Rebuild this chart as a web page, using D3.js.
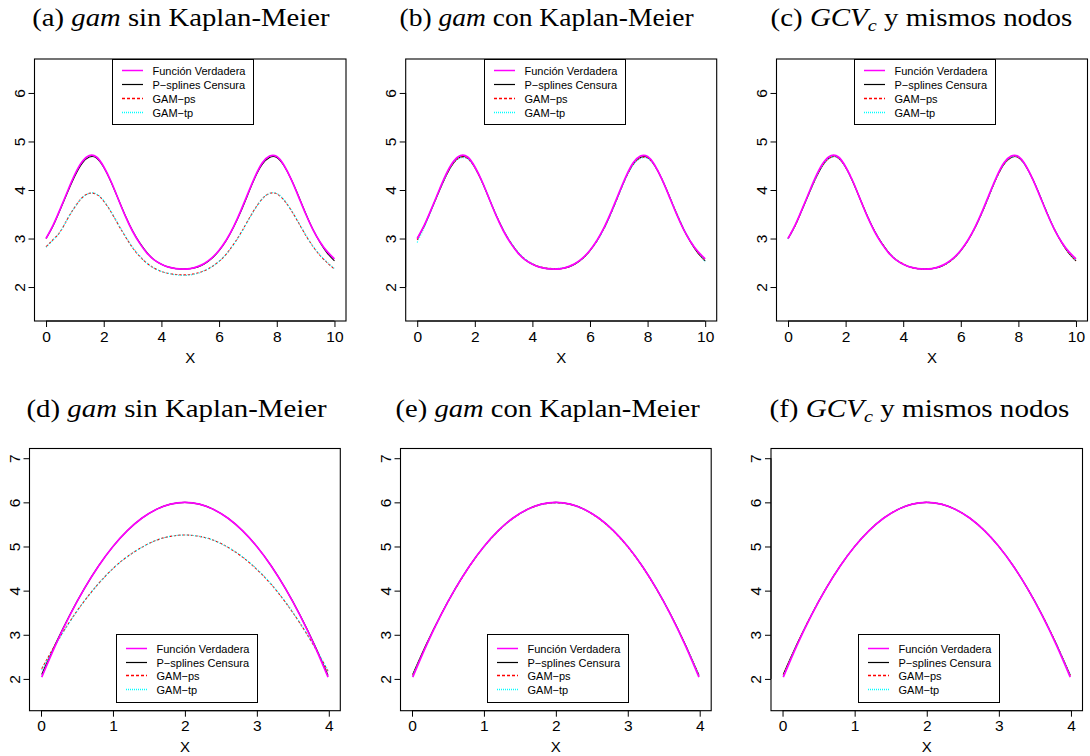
<!DOCTYPE html>
<html>
<head>
<meta charset="utf-8">
<script src="https://cdn.jsdelivr.net/npm/d3@7"></script>
<style>
  body { margin: 0; background: #fff; }
  svg { display: block; }
</style>
</head>
<body>
<svg id="fig" width="1090" height="756"></svg>
<script>
// ---- x grids ----
const xTop = [0, 0.25, 0.5, 0.75, 1, 1.25, 1.5, 1.75, 2, 2.25, 2.5, 2.75, 3, 3.25, 3.5, 3.75,
  4, 4.25, 4.5, 4.75, 5, 5.25, 5.5, 5.75, 6, 6.25, 6.5, 6.75, 7, 7.25, 7.5, 7.75,
  8, 8.25, 8.5, 8.75, 9, 9.25, 9.5, 9.75, 10];
const xBot = [0.01, 0.2, 0.4, 0.6, 0.8, 1, 1.2, 1.4, 1.6, 1.8, 2, 2.2, 2.4, 2.6, 2.8, 3,
  3.2, 3.4, 3.6, 3.8, 3.99];

// ---- top row (periodic function) ----
const trueTop = [3.00, 3.28, 3.62, 3.98, 4.32, 4.58, 4.71, 4.68, 4.48, 4.18, 3.82, 3.46, 3.15, 2.90, 2.70, 2.56,
  2.47, 2.41, 2.38, 2.37, 2.38, 2.42, 2.49, 2.60, 2.76, 2.97, 3.24, 3.57, 3.93, 4.28, 4.56, 4.70,
  4.69, 4.51, 4.22, 3.87, 3.51, 3.19, 2.93, 2.73, 2.58];
const censTop = [3.00, 3.27, 3.61, 3.96, 4.29, 4.55, 4.68, 4.66, 4.47, 4.17, 3.82, 3.47, 3.16, 2.91, 2.71, 2.56,
  2.47, 2.41, 2.38, 2.37, 2.38, 2.41, 2.48, 2.59, 2.75, 2.96, 3.23, 3.55, 3.91, 4.26, 4.53, 4.67,
  4.67, 4.50, 4.22, 3.88, 3.52, 3.19, 2.92, 2.70, 2.54];
const psTopA = [2.83, 2.98, 3.15, 3.41, 3.65, 3.84, 3.93, 3.91, 3.77, 3.55, 3.29, 3.04, 2.81, 2.63, 2.49, 2.39,
  2.32, 2.28, 2.26, 2.25, 2.26, 2.29, 2.34, 2.42, 2.53, 2.68, 2.88, 3.11, 3.37, 3.62, 3.82, 3.93,
  3.92, 3.79, 3.58, 3.33, 3.07, 2.84, 2.65, 2.50, 2.37];
const tpTopA = [2.82, 2.97, 3.15, 3.41, 3.65, 3.84, 3.93, 3.92, 3.78, 3.56, 3.30, 3.05, 2.82, 2.64, 2.49, 2.39,
  2.32, 2.28, 2.25, 2.24, 2.25, 2.28, 2.34, 2.42, 2.53, 2.68, 2.87, 3.10, 3.36, 3.61, 3.82, 3.93,
  3.93, 3.80, 3.59, 3.34, 3.08, 2.85, 2.66, 2.51, 2.38];
const psTopB = [2.97, 3.27, 3.61, 3.97, 4.30, 4.55, 4.67, 4.65, 4.46, 4.17, 3.82, 3.47, 3.16, 2.91, 2.71, 2.57,
  2.48, 2.42, 2.39, 2.38, 2.38, 2.42, 2.49, 2.59, 2.75, 2.96, 3.22, 3.55, 3.91, 4.26, 4.53, 4.66,
  4.66, 4.50, 4.22, 3.88, 3.53, 3.20, 2.93, 2.71, 2.53];
const tpTopB = [2.92, 3.24, 3.60, 3.97, 4.30, 4.55, 4.66, 4.64, 4.46, 4.17, 3.83, 3.48, 3.17, 2.92, 2.72, 2.58,
  2.48, 2.42, 2.39, 2.38, 2.39, 2.42, 2.49, 2.59, 2.75, 2.95, 3.21, 3.54, 3.90, 4.25, 4.52, 4.65,
  4.65, 4.50, 4.22, 3.89, 3.54, 3.21, 2.94, 2.72, 2.52];
const psTopC = [3.00, 3.27, 3.61, 3.96, 4.29, 4.55, 4.68, 4.66, 4.47, 4.18, 3.82, 3.47, 3.16, 2.91, 2.71, 2.57,
  2.48, 2.41, 2.38, 2.37, 2.38, 2.41, 2.48, 2.59, 2.75, 2.96, 3.23, 3.55, 3.91, 4.26, 4.53, 4.67,
  4.67, 4.50, 4.22, 3.88, 3.52, 3.19, 2.92, 2.70, 2.54];
const tpTopC = [2.99, 3.27, 3.61, 3.96, 4.29, 4.55, 4.68, 4.66, 4.47, 4.18, 3.82, 3.47, 3.16, 2.91, 2.71, 2.57,
  2.47, 2.41, 2.38, 2.37, 2.38, 2.41, 2.48, 2.59, 2.75, 2.96, 3.23, 3.55, 3.91, 4.26, 4.53, 4.67,
  4.67, 4.50, 4.22, 3.88, 3.52, 3.20, 2.93, 2.71, 2.55];

// ---- bottom row (parabola) ----
const trueBot = [2.04, 2.76, 3.44, 4.04, 4.56, 5.00, 5.36, 5.64, 5.84, 5.96, 6.00, 5.96, 5.84, 5.64, 5.36, 5.00,
  4.56, 4.04, 3.44, 2.76, 2.04];
const censBot = [2.10, 2.79, 3.45, 4.04, 4.56, 5.00, 5.36, 5.64, 5.84, 5.96, 6.00, 5.96, 5.84, 5.64, 5.36, 5.00,
  4.56, 4.04, 3.45, 2.78, 2.08];
const psBotD = [2.23, 2.78, 3.30, 3.76, 4.16, 4.50, 4.77, 4.98, 5.14, 5.23, 5.26, 5.23, 5.14, 4.98, 4.76, 4.48,
  4.14, 3.73, 3.26, 2.73, 2.17];
const tpBotD = [2.20, 2.76, 3.29, 3.76, 4.16, 4.50, 4.77, 4.98, 5.14, 5.23, 5.26, 5.23, 5.14, 4.98, 4.77, 4.49,
  4.15, 3.74, 3.27, 2.74, 2.19];
const psBotE = [2.08, 2.77, 3.44, 4.03, 4.55, 4.99, 5.35, 5.63, 5.83, 5.95, 5.99, 5.95, 5.83, 5.63, 5.35, 4.99,
  4.55, 4.03, 3.44, 2.77, 2.08];
const tpBotE = [2.07, 2.76, 3.44, 4.04, 4.56, 4.99, 5.35, 5.63, 5.83, 5.95, 5.99, 5.95, 5.83, 5.64, 5.36, 5.00,
  4.56, 4.04, 3.44, 2.77, 2.09];
const psBotF = [2.09, 2.78, 3.45, 4.04, 4.56, 5.00, 5.36, 5.64, 5.84, 5.96, 6.00, 5.96, 5.84, 5.64, 5.36, 5.00,
  4.56, 4.04, 3.45, 2.78, 2.08];
const tpBotF = [2.08, 2.77, 3.45, 4.04, 4.56, 5.00, 5.36, 5.64, 5.84, 5.96, 6.00, 5.96, 5.84, 5.64, 5.36, 5.00,
  4.56, 4.04, 3.45, 2.78, 2.09];

// ---- ticks and labels ----
const xTicksTop = [0, 2, 4, 6, 8, 10];
const yTicksTop = [2, 3, 4, 5, 6];
const xTicksBot = [0, 1, 2, 3, 4];
const yTicksBot = [2, 3, 4, 5, 6, 7];
const legendLabels = ["Función Verdadera", "P\u2212splines Censura", "GAM\u2212ps", "GAM\u2212tp"];
const xAxisTitle = "X";

// ---- series styles (legend order) ----
const styles = [
  { color: "#ff00ff", width: 1.7, dash: null,      keyWidth: 1.5 },
  { color: "#000000", width: 1.1, dash: null,      keyWidth: 1.2 },
  { color: "#ff0000", width: 1.1, dash: "2.5,1.8", keyWidth: 1.5, keyDash: "3,2" },
  { color: "#00ffff", width: 1.2, dash: "1,1.6",   keyWidth: 1.5, keyDash: "1,1" }
];

const titleTop = { top: 26, fs: 25 };
const titleBot = { top: 416.5, fs: 25 };

const panels = [
  { title: [["(a) "], ["gam", "i"], [" sin Kaplan-Meier"]], tl: 32.3, tw: 298, row: "top",
    box: [34.5, 346, 59, 321], series: [trueTop, censTop, psTopA, tpTopA] },
  { title: [["(b) "], ["gam", "i"], [" con Kaplan-Meier"]], tl: 399.5, tw: 295, row: "top",
    box: [405.7, 716.7, 59, 321], series: [trueTop, censTop, psTopB, tpTopB] },
  { title: [["(c) "], ["GCV", "i"], ["c", "sub"], [" y mismos nodos", "up"]], tl: 770.5, tw: 302, row: "top",
    box: [776.5, 1087.5, 59, 321], series: [trueTop, censTop, psTopC, tpTopC] },
  { title: [["(d) "], ["gam", "i"], [" sin Kaplan-Meier"]], tl: 26.5, tw: 301, row: "bot",
    box: [29.5, 340.3, 448.5, 710.7], series: [trueBot, censBot, psBotD, tpBotD] },
  { title: [["(e) "], ["gam", "i"], [" con Kaplan-Meier"]], tl: 395.5, tw: 305, row: "bot",
    box: [400.5, 711.2, 448.5, 710.7], series: [trueBot, censBot, psBotE, tpBotE] },
  { title: [["(f) "], ["GCV", "i"], ["c", "sub"], [" y mismos nodos", "up"]], tl: 769.5, tw: 300, row: "bot",
    box: [771, 1082.5, 448.5, 710.7], series: [trueBot, censBot, psBotF, tpBotF] }
];

const svg = d3.select("#fig");
const sans = "'Liberation Sans', Arial, Helvetica, sans-serif";
const serif = "'Liberation Serif', 'Times New Roman', serif";

function drawTitle(p) {
  const cfg = p.row === "top" ? titleTop : titleBot;
  const t = svg.append("text")
    .attr("font-family", serif)
    .attr("font-size", cfg.fs)
    .attr("fill", "#000");
  p.title.forEach(([txt, kind]) => {
    const ts = t.append("tspan").text(txt);
    if (kind === "i") ts.attr("font-style", "italic");
    if (kind === "sub") ts.attr("font-style", "italic").attr("font-size", cfg.fs * 0.7).attr("dy", 5);
    if (kind === "up") ts.attr("dy", -5);
  });
  const w = t.node().getBBox().width;
  t.attr("transform", `translate(${p.tl},${cfg.top}) scale(${p.tw / w},1)`);
}

panels.forEach(p => {
  const [x0, x1, y0, y1] = p.box;
  const isTop = p.row === "top";
  const xData = isTop ? xTop : xBot;
  const xDom = isTop ? [0, 10] : [0, 4];
  const yDom = isTop ? [1.5, 6.5] : [1.5, 7];
  const padX = (xDom[1] - xDom[0]) * 0.04;
  const padY = (yDom[1] - yDom[0]) * 0.04;
  const x = d3.scaleLinear().domain([xDom[0] - padX, xDom[1] + padX]).range([x0, x1]);
  const y = d3.scaleLinear().domain([yDom[0] - padY, yDom[1] + padY]).range([y1, y0]);

  drawTitle(p);

  const g = svg.append("g");

  // curves: estimators first, true function on top
  const line = d3.line().x(d => x(d[0])).y(d => y(d[1])).curve(d3.curveNatural);
  const order = [1, 2, 3, 0];
  order.forEach(i => {
    const st = styles[i];
    g.append("path")
      .datum(xData.map((xv, k) => [xv, p.series[i][k]]))
      .attr("d", line)
      .attr("fill", "none")
      .attr("stroke", st.color)
      .attr("stroke-width", st.width)
      .attr("stroke-dasharray", st.dash)
      .attr("stroke-linejoin", "round");
  });

  // axes
  const xAxis = d3.axisBottom(x).tickValues(isTop ? xTicksTop : xTicksBot)
    .tickSize(6).tickFormat(d3.format("d"));
  const gx = g.append("g").attr("transform", `translate(0,${y1})`).call(xAxis);
  gx.select(".domain").remove();
  gx.selectAll("line").attr("stroke", "#000");
  gx.selectAll("text").attr("y", 20.5).attr("dy", 0)
    .attr("font-family", sans).attr("font-size", 15.5).attr("fill", "#000");

  const yAxis = d3.axisLeft(y).tickValues(isTop ? yTicksTop : yTicksBot)
    .tickSize(6).tickFormat(d3.format("d"));
  const gy = g.append("g").attr("transform", `translate(${x0},0)`).call(yAxis);
  gy.select(".domain").remove();
  gy.selectAll("line").attr("stroke", "#000");
  gy.selectAll("text")
    .attr("transform", "rotate(-90)")
    .attr("x", 0).attr("y", -10).attr("dy", 0)
    .attr("text-anchor", "middle")
    .attr("font-family", sans).attr("font-size", 15.5).attr("fill", "#000");

  // axis lines spanning the tick range, as in base graphics
  const xt = isTop ? xTicksTop : xTicksBot;
  const yt = isTop ? yTicksTop : yTicksBot;
  g.append("line").attr("x1", x(xt[0])).attr("x2", x(xt[xt.length - 1]))
    .attr("y1", y1).attr("y2", y1).attr("stroke", "#000");
  g.append("line").attr("y1", y(yt[0])).attr("y2", y(yt[yt.length - 1]))
    .attr("x1", x0).attr("x2", x0).attr("stroke", "#000");

  // plot box
  g.append("rect").attr("x", x0).attr("y", y0).attr("width", x1 - x0).attr("height", y1 - y0)
    .attr("fill", "none").attr("stroke", "#000").attr("stroke-width", 1.1);

  // x axis title
  g.append("text").attr("x", (x0 + x1) / 2).attr("y", y1 + 41.5)
    .attr("text-anchor", "middle").attr("font-family", sans).attr("font-size", 15)
    .attr("fill", "#000").text(xAxisTitle);

  // legend, placed on the pixel grid so the key strokes stay crisp
  const lg = isTop
    ? { left: Math.round(x0 + 77.8) + 0.5, top: Math.round(y0) + 0.5, w: 141, h: 65, rows: [11, 25, 39, 53] }
    : { left: Math.round(x0 + 86.6) + 0.5, top: 634.5, w: 141, h: 68, rows: [14, 28, 41, 55] };
  const L = g.append("g").attr("transform", `translate(${lg.left},${lg.top})`);
  L.append("rect").attr("width", lg.w).attr("height", lg.h)
    .attr("fill", "#fff").attr("stroke", "#000").attr("stroke-width", 1);
  legendLabels.forEach((lab, i) => {
    const st = styles[i];
    L.append("line").attr("x1", 9.5).attr("x2", 30.5).attr("y1", lg.rows[i]).attr("y2", lg.rows[i])
      .attr("stroke", st.color).attr("stroke-width", st.keyWidth)
      .attr("stroke-dasharray", st.keyDash || null);
    L.append("text").attr("x", 40).attr("y", lg.rows[i] + 4)
      .attr("font-family", sans).attr("font-size", 11).attr("fill", "#000").text(lab);
  });
});
</script>
</body>
</html>
